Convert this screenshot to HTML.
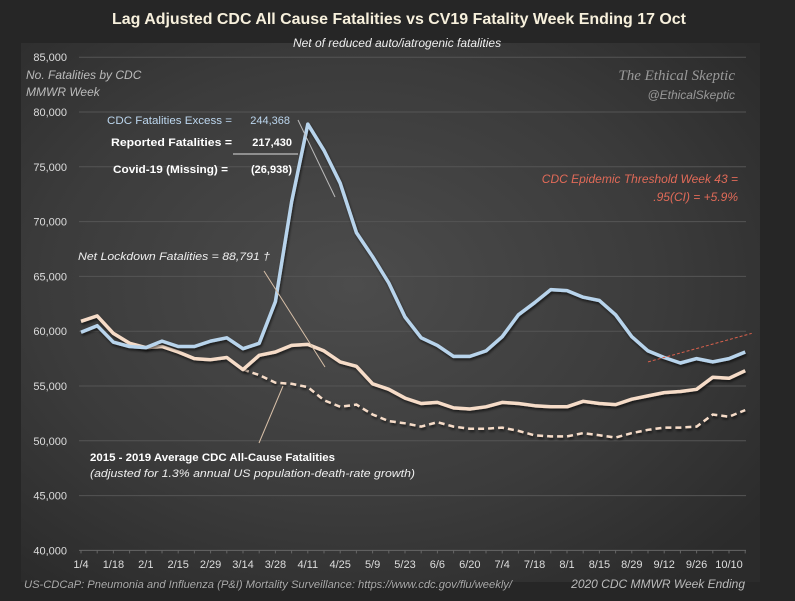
<!DOCTYPE html>
<html><head><meta charset="utf-8"><style>
html,body{margin:0;padding:0;background:#262626;}
svg{display:block;font-family:"Liberation Sans",sans-serif;}
</style></head><body>
<svg id="chart" width="795" height="601" viewBox="0 0 795 601">
<defs>
<radialGradient id="bg" cx="0.45" cy="0.45" r="0.7">
<stop offset="0" stop-color="#4c4c4c"/><stop offset="0.6" stop-color="#3b3b3b"/><stop offset="1" stop-color="#2b2b2b"/>
</radialGradient>
<filter id="sh" x="-5%" y="-5%" width="110%" height="110%"><feDropShadow dx="1" dy="2" stdDeviation="1.2" flood-color="#000" flood-opacity="0.6"/></filter>
</defs>
<rect x="0" y="0" width="795" height="601" fill="#262626"/>
<rect x="21" y="43" width="739" height="539" fill="url(#bg)"/>
<text x="112" y="24" textLength="574" lengthAdjust="spacingAndGlyphs" font-size="16" font-weight="bold" fill="#f7f0dc">Lag Adjusted CDC All Cause Fatalities vs CV19 Fatality Week Ending 17 Oct</text>
<text x="397" y="47" text-anchor="middle" font-size="12" font-style="italic" fill="#f0f0f0">Net of reduced auto/iatrogenic fatalities</text>
<g id="grid"></g>
<g id="yticks"></g>
<g id="xticks"></g>
<text x="26" y="79" font-size="12" font-style="italic" fill="#bbb"><tspan x="26">No. Fatalities by CDC</tspan><tspan x="26" dy="17">MMWR Week</tspan></text>
<text x="735" y="80" text-anchor="end" font-size="15" font-style="italic" fill="#999" font-family="Liberation Serif,serif">The Ethical Skeptic</text>
<text x="735" y="99" text-anchor="end" font-size="12" font-style="italic" fill="#999">@EthicalSkeptic</text>
<g id="series"></g>
<g font-size="11" fill="#fff">
<text x="107" y="124" textLength="125" lengthAdjust="spacingAndGlyphs" font-size="11" fill="#bcd6ee">CDC Fatalities Excess =</text>
<text x="290" y="124" text-anchor="end" font-size="11" fill="#bcd6ee">244,368</text>
<text x="111" y="146" textLength="121" lengthAdjust="spacingAndGlyphs" font-weight="bold">Reported  Fatalities  =</text>
<text x="292" y="146" text-anchor="end" font-weight="bold">217,430</text>
<line x1="233" y1="154" x2="298" y2="154" stroke="#ddd" stroke-width="1"/>
<text x="113" y="173" textLength="115" lengthAdjust="spacingAndGlyphs" font-weight="bold">Covid-19 (Missing)  =</text>
<text x="292" y="173" text-anchor="end" font-weight="bold">(26,938)</text>
<line x1="298" y1="120" x2="335" y2="197" stroke="#bbb" stroke-width="1"/>
<text x="78" y="260" textLength="192" lengthAdjust="spacingAndGlyphs" font-style="italic" fill="#eee">Net Lockdown  Fatalities  =  88,791 †</text>
<line x1="264" y1="271" x2="325" y2="367" stroke="#d8c0a8" stroke-width="1"/>
<line x1="259" y1="443" x2="283" y2="386" stroke="#d8c0a8" stroke-width="1"/>
<text x="90" y="461" textLength="245" lengthAdjust="spacingAndGlyphs" font-weight="bold">2015 - 2019 Average CDC All-Cause  Fatalities</text>
<text x="90" y="477" textLength="325" lengthAdjust="spacingAndGlyphs" font-style="italic" fill="#eee">(adjusted for 1.3% annual US population-death-rate growth)</text>
<text x="738" y="183" text-anchor="end" font-style="italic" fill="#e06a58" font-size="12">CDC Epidemic Threshold Week 43  =</text>
<text x="738" y="201" text-anchor="end" font-style="italic" fill="#e06a58" font-size="12">.95(CI) = +5.9%</text>
</g>
<text x="24" y="588" textLength="488" lengthAdjust="spacingAndGlyphs" font-size="11" font-style="italic" fill="#aaa">US-CDCaP:  Pneumonia and Influenza (P&amp;I) Mortality Surveillance: https://www.cdc.gov/flu/weekly/</text>
<text x="745" y="588" text-anchor="end" font-size="12" font-style="italic" fill="#bbb">2020 CDC MMWR Week Ending</text>
</svg>
<script>
const xLabels=["1/4","1/18","2/1","2/15","2/29","3/14","3/28","4/11","4/25","5/9","5/23","6/6","6/20","7/4","7/18","8/1","8/15","8/29","9/12","9/26","10/10"];
const yTicks=[40000,45000,50000,55000,60000,65000,70000,75000,80000,85000];
const reported=[59900,60500,59000,58600,58500,59100,58600,58600,59100,59400,58400,58900,62700,71800,78900,76500,73500,69000,66800,64400,61300,59400,58700,57700,57700,58200,59500,61500,62600,63800,63700,63100,62800,61500,59500,58200,57600,57100,57500,57200,57500,58100];
const adjusted=[60900,61400,59800,58900,58500,58600,58100,57500,57400,57600,56500,57800,58100,58700,58800,58200,57200,56800,55200,54700,53900,53400,53500,53000,52900,53100,53500,53400,53200,53100,53100,53600,53400,53300,53800,54100,54400,54500,54700,55800,55700,56400];
const average=[null,null,null,null,null,null,null,null,null,null,56500,56000,55300,55200,54900,53700,53100,53300,52400,51800,51600,51300,51700,51300,51100,51100,51200,50900,50500,50400,50400,50700,50500,50300,50700,51000,51200,51200,51300,52400,52200,52800];
const thresholdIdx=[35,41.4];
const thresholdVal=[57200,59800];
const NS="http://www.w3.org/2000/svg";
const X0=81,DX=16.2;
function xs(i){return X0+i*DX;}
function ys(v){return 112+(80000-v)/5000*54.8;}
function mk(tag,attrs,parent){const e=document.createElementNS(NS,tag);for(const k in attrs)e.setAttribute(k,attrs[k]);parent.appendChild(e);return e;}
const grid=document.getElementById('grid'),yt=document.getElementById('yticks'),xt=document.getElementById('xticks'),ser=document.getElementById('series');
yTicks.forEach(v=>{
 const l=mk('line',{x1:79,x2:746,y1:ys(v),y2:ys(v),stroke:v===40000?'#666':'#555','stroke-width':1},grid);
 
 
 const t=mk('text',{x:67,y:ys(v)+4,'text-anchor':'end','font-size':11,fill:'#ddd'},yt);
 t.textContent=v.toLocaleString('en-US');
 
 
});
xLabels.forEach((s,k)=>{
 const t=mk('text',{x:xs(k*2),y:568,'text-anchor':'middle','font-size':11,fill:'#ddd'},xt);
 t.textContent=s;
 
 
});
for(let i=0;i<reported.length;i++){
 const m=mk('line',{x1:xs(i),x2:xs(i),y1:ys(40000),y2:ys(40000)+3,stroke:'#666'},xt);
 
 
}
function path(arr){let d='',pen=false;arr.forEach((v,i)=>{if(v==null){pen=false;return;}d+=(pen?'L':'M')+xs(i).toFixed(1)+','+ys(v).toFixed(1);pen=true;});return d;}
const pa=mk('path',{d:path(average),fill:'none',stroke:'#f6dcc8','stroke-width':2.5,'stroke-dasharray':'6,4',filter:'url(#sh)'},ser);


const pj=mk('path',{d:path(adjusted),fill:'none',stroke:'#f6dcc8','stroke-width':3.5,'stroke-linejoin':'round',filter:'url(#sh)'},ser);


const pr=mk('path',{d:path(reported),fill:'none',stroke:'#b8d4ec','stroke-width':3.5,'stroke-linejoin':'round',filter:'url(#sh)'},ser);


const th=mk('line',{x1:xs(thresholdIdx[0]),y1:ys(thresholdVal[0]),x2:xs(thresholdIdx[1]),y2:ys(thresholdVal[1]),stroke:'#d8604c','stroke-width':1,'stroke-dasharray':'3,2'},ser);


</script>
</body></html>
